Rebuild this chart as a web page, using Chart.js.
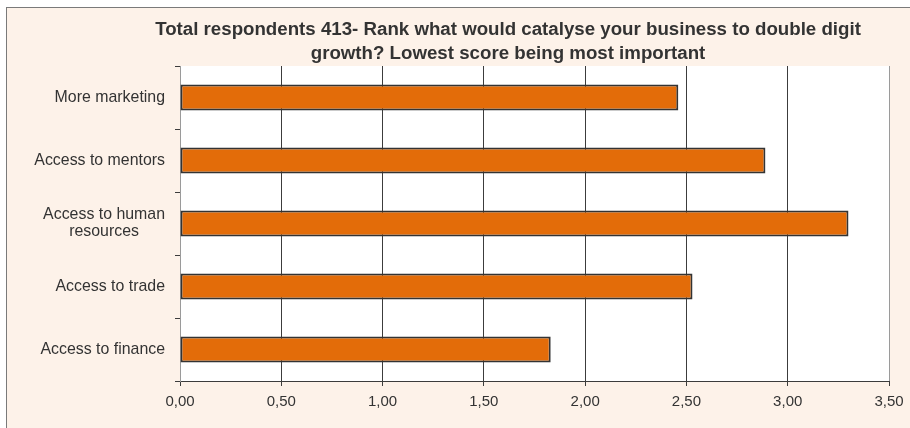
<!DOCTYPE html>
<html>
<head>
<meta charset="utf-8">
<script src="https://cdn.jsdelivr.net/npm/chart.js@4.4.1/dist/chart.umd.min.js"></script>
<style>
  html, body { margin: 0; padding: 0; background: #fff; overflow: hidden; }
  #frame { position: absolute; left: 6px; top: 7px; width: 1003px; height: 430px;
           border: 1px solid #7a7a7a; background: #fdf2e9; }
  #frame canvas { display: block; }
</style>
</head>
<body>
<div id="frame"><canvas id="rankChart" width="1003" height="430"></canvas></div>
<script>
// survey answers, top to bottom
const categories = [
    ['More marketing'],
    ['Access to mentors'],
    ['Access to human', 'resources'],
    ['Access to trade'],
    ['Access to finance']
];
const avgScores = [2.46, 2.89, 3.30, 2.53, 1.83];
const xTickValues = [0, 0.5, 1, 1.5, 2, 2.5, 3, 3.5];

const titleLines = [
    'Total respondents 413- Rank what would catalyse your business to double digit',
    'growth? Lowest score being most important'
];

const FONT = '"Liberation Sans", Arial, sans-serif';

// white plot background inside the beige frame
const plotBg = {
    id: 'plotBg',
    beforeDraw(chart) {
        const { ctx, chartArea: a } = chart;
        ctx.save();
        ctx.fillStyle = '#ffffff';
        ctx.fillRect(a.left, a.top, a.right - a.left, a.bottom - a.top);
        ctx.restore();
    }
};

// category labels: right edge against the axis, lines centred on each other
const yLabels = {
    id: 'yLabels',
    afterDraw(chart) {
        const { ctx } = chart;
        const y = chart.scales.y;
        const right = y.right - 15;
        ctx.save();
        ctx.font = '15.9px ' + FONT;
        ctx.fillStyle = '#333333';
        ctx.textAlign = 'center';
        ctx.textBaseline = 'middle';
        categories.forEach((lines, i) => {
            const w = Math.max(...lines.map(l => ctx.measureText(l).width));
            const cy = y.getPixelForValue(i);
            lines.forEach((l, j) => {
                ctx.fillText(l, right - w / 2, cy + (j - (lines.length - 1) / 2) * 17);
            });
        });
        ctx.restore();
    }
};

new Chart(document.getElementById('rankChart'), {
    type: 'bar',
    data: {
        labels: categories,
        datasets: [{
            data: avgScores,
            backgroundColor: '#e36c09',
            borderColor: '#333333',
            borderWidth: 2,
            borderSkipped: false,
            categoryPercentage: 1,
            barPercentage: 0.41
        }]
    },
    options: {
        indexAxis: 'y',
        responsive: false,
        animation: false,
        layout: {
            padding: { left: 120, right: 121, top: 0, bottom: 17 }
        },
        plugins: {
            legend: { display: false },
            tooltip: { enabled: false },
            title: {
                display: true,
                text: titleLines,
                color: '#333333',
                font: { family: FONT, size: 18.7, weight: 'bold', lineHeight: '24px' },
                padding: { top: 10, bottom: 0 }
            }
        },
        scales: {
            x: {
                min: 0,
                max: 3.5,
                afterBuildTicks: scale => {
                    scale.ticks = xTickValues.map(v => ({ value: v }));
                },
                afterFit: scale => { scale.height = 40; },
                ticks: {
                    color: '#333333',
                    font: { family: FONT, size: 15 },
                    padding: 7,
                    callback: v => v.toFixed(2).replace('.', ',')
                },
                grid: {
                    color: c => c.index === xTickValues.length - 1 ? '#9a9a9a' : '#3c3c3c',
                    lineWidth: 1,
                    tickLength: 5,
                    tickColor: '#3c3c3c'
                },
                border: { color: '#3c3c3c', width: 1 }
            },
            y: {
                afterFit: scale => { scale.width = 53; },
                ticks: { display: false },
                grid: {
                    drawOnChartArea: false,
                    offset: true,
                    tickLength: 5,
                    tickColor: '#3c3c3c'
                },
                border: { color: '#9a9a9a', width: 1 }
            }
        }
    },
    plugins: [plotBg, yLabels]
});
</script>
</body>
</html>
